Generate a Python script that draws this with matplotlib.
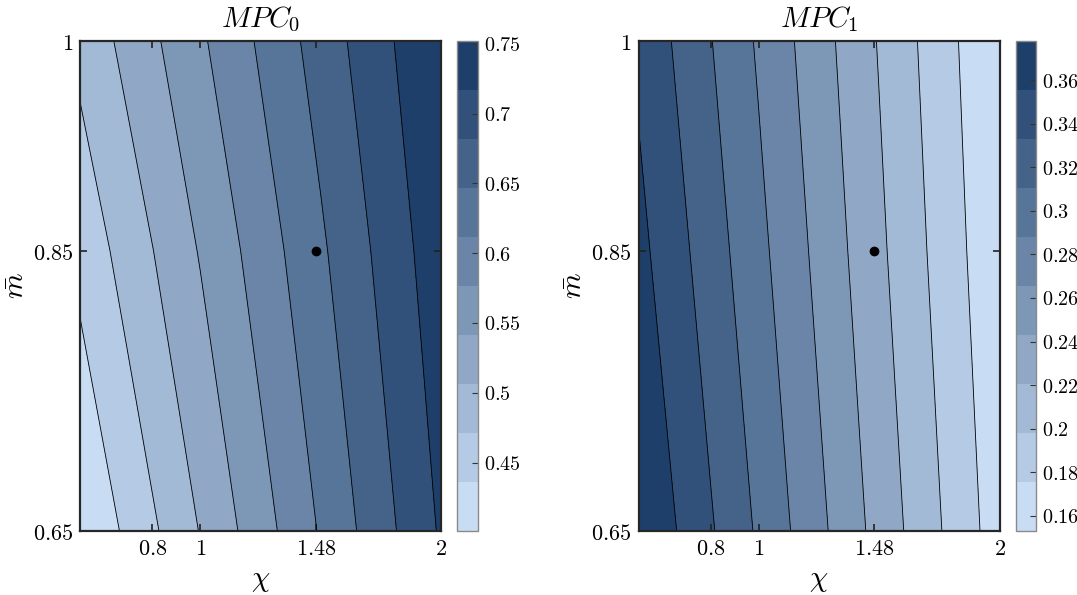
import numpy as np
import matplotlib
matplotlib.use('Agg')
import matplotlib.pyplot as plt
from matplotlib.colors import to_rgb

plt.rcParams['mathtext.fontset'] = 'cm'
plt.rcParams['font.family'] = 'serif'
plt.rcParams['font.serif'] = ['DejaVu Serif']

# ---- data ----
chi = [0.5, 1.0, 1.5, 2.0]
mbar = [0.65, 0.85, 1.0]
mpc0 = [[0.401, 0.508, 0.615, 0.721],
        [0.447, 0.544, 0.641, 0.739],
        [0.481, 0.571, 0.662, 0.752]]
mpc1 = [[0.378, 0.307, 0.235, 0.164],
        [0.362, 0.294, 0.225, 0.157],
        [0.351, 0.285, 0.219, 0.153]]
calib_chi = [1.48]
calib_mbar = [0.85]
xticks = [0.8, 1, 1.48, 2]
xticklabels = ['0.8', '1', '1.48', '2']
yticks = [0.65, 0.85, 1]
yticklabels = ['0.65', '0.85', '1']
cb0_ticks = [0.45, 0.5, 0.55, 0.6, 0.65, 0.7, 0.75]
cb0_labels = ['0.45', '0.5', '0.55', '0.6', '0.65', '0.7', '0.75']
cb1_ticks = [0.16, 0.18, 0.2, 0.22, 0.24, 0.26, 0.28, 0.3, 0.32, 0.34, 0.36]
cb1_labels = ['0.16', '0.18', '0.2', '0.22', '0.24', '0.26', '0.28', '0.3', '0.32', '0.34', '0.36']
titles = [r'$MPC_0$', r'$MPC_1$']
n_bands = 10

light = np.array(to_rgb('#c8ddf4'))
dark = np.array(to_rgb('#1f3f6b'))
band_colors = [tuple(light + (dark - light) * t) for t in np.linspace(0, 1, n_bands)]

W, H = 1077, 595
fig = plt.figure(figsize=(W / 100, H / 100), dpi=100)

def fx(px):
    return px / W

def fy(py):
    return 1 - py / H

panels = [
    dict(z=mpc0, ax=(80, 441), cb=(457, 478), ticks=cb0_ticks, labels=cb0_labels, title=titles[0]),
    dict(z=mpc1, ax=(638.5, 999.5), cb=(1015.5, 1036), ticks=cb1_ticks, labels=cb1_labels, title=titles[1]),
]
top, bot = 41, 531
X, Y = np.meshgrid(chi, mbar)
for p in panels:
    Z = np.array(p['z'])
    ax = fig.add_axes([fx(p['ax'][0]), fy(bot), fx(p['ax'][1] - p['ax'][0]), (bot - top) / H])
    levels = np.linspace(Z.min(), Z.max(), n_bands + 1)
    cf = ax.contourf(X, Y, Z, levels=levels, colors=band_colors)
    ax.contour(X, Y, Z, levels=levels[1:-1], colors='black', linewidths=0.6)
    ax.plot(calib_chi, calib_mbar, 'o', color='black', markersize=6)
    ax.set_xlim(0.5, 2)
    ax.set_ylim(0.65, 1)
    ax.set_xticks(xticks)
    ax.set_xticklabels(['$' + s + '$' for s in xticklabels])
    ax.set_yticks(yticks)
    ax.set_yticklabels(['$' + s + '$' for s in yticklabels])
    ax.tick_params(direction='in', top=True, right=True, length=5, width=1.2,
                   labelsize=16, color='#222222', pad=5)
    for s in ax.spines.values():
        s.set_linewidth(1.6)
        s.set_color('#262626')
    ax.set_title(p['title'], fontsize=21, pad=10)
    ax.set_xlabel(r'$\chi$', fontsize=21, labelpad=4)
    ax.set_ylabel(r'$\bar{m}$', fontsize=21, labelpad=2)

    cax = fig.add_axes([fx(p['cb'][0]), fy(bot), fx(p['cb'][1] - p['cb'][0]), (bot - top) / H])
    cb = fig.colorbar(cf, cax=cax)
    cb.set_ticks(p['ticks'])
    cb.set_ticklabels(['$' + s + '$' for s in p['labels']])
    cax.tick_params(direction='in', length=4, width=0.8, labelsize=14.5, color='#333333', pad=4)
    cb.outline.set_edgecolor('#8a8a8a')
    cb.outline.set_linewidth(1.0)

fig.savefig('out.png', dpi=100)
